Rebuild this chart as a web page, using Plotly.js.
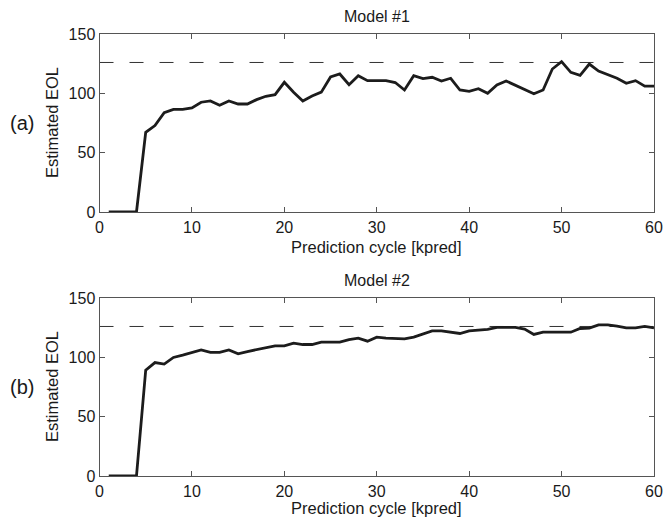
<!DOCTYPE html>
<html>
<head>
<meta charset="utf-8">
<script src="https://cdn.plot.ly/plotly-3.0.1.min.js"></script>
<style>html,body{margin:0;padding:0;background:#fff;}#chart{width:664px;height:520px;}</style>
</head>
<body>
<div id="chart"></div>
<script>
const cycles = [1,2,3,4,5,6,7,8,9,10,11,12,13,14,15,16,17,18,19,20,21,22,23,24,25,26,27,28,29,30,31,32,33,34,35,36,37,38,39,40,41,42,43,44,45,46,47,48,49,50,51,52,53,54,55,56,57,58,59,60];
const model1EOL = [0,0,0,0,67.2,72.8,83.7,86.5,86.5,87.7,92.5,93.6,89.9,93.6,91,91,94.7,97.5,98.9,109.3,100.9,93.6,97.8,101,113.8,116.3,107.3,114.9,110.7,110.7,110.7,109.1,102.8,114.9,112.4,113.5,110.4,112.7,102.8,101.7,103.9,100,107,110.4,106.8,103.7,99.7,102.8,120.5,126.7,117.7,115.2,124.7,118.8,115.7,112.7,108.5,110.7,106,106];
const model2EOL = [0,0,0,0,89.2,95.6,94.3,99.9,101.9,104.1,106.3,104.1,104.1,106.3,103,104.9,106.6,108.6,109.7,109.7,112,110.8,110.8,112.8,112.8,112.8,115,116.2,113.6,117,116.2,115.6,115.6,117,119.8,122.3,122.3,121.5,120.1,122.3,122.6,123.5,125.2,125.2,125.2,123.8,119.3,121.2,121.2,121.2,121.2,124.3,124.6,127.4,127.4,126.3,124.9,124.9,126,124.9];
const trueEOL = 126;
const panelTitles = ["Model #1","Model #2"];
const panelLabels = ["(a)","(b)"];
const xTitle = "Prediction cycle [kpred]";
const yTitle = "Estimated EOL";
const xTicks = [0,10,20,30,40,50,60];
const yTicks = [0,50,100,150];

const W = 664, H = 520;
const xL = 99.5, xR = 654;
const panels = [{top:34, bottom:212, xt:35}, {top:298, bottom:476, xt:32}];
const fx = p => p / W;
const fy = p => 1 - p / H;

const font = {family: 'Liberation Sans, Arial, sans-serif', color: '#1a1a1a'};
const lineCol = '#1c1c1c';

function axisX(anchor) {
  return {domain:[fx(xL), fx(xR)], range:[0,60], anchor:anchor, tickvals:xTicks, ticks:'inside', ticklen:5,
    tickcolor:'#555', linecolor:'#555', linewidth:1, mirror:'ticks', showgrid:false, zeroline:false,
    tickfont:Object.assign({size:16}, font), ticklabelstandoff:1, fixedrange:true};
}
function axisY(anchor, p) {
  return {domain:[fy(p.bottom), fy(p.top)], range:[0,150], anchor:anchor, tickvals:yTicks, ticks:'inside', ticklen:5,
    tickcolor:'#555', linecolor:'#555', linewidth:1, mirror:'ticks', showgrid:false, zeroline:false,
    tickfont:Object.assign({size:16}, font), ticklabelstandoff:0, fixedrange:true};
}

const data = [
  {x:[0,60], y:[trueEOL,trueEOL], xaxis:'x', yaxis:'y', mode:'lines', line:{color:'#333', width:1, dash:'14px,16px'}, hoverinfo:'skip'},
  {x:cycles, y:model1EOL, xaxis:'x', yaxis:'y', mode:'lines', line:{color:lineCol, width:2.8}},
  {x:[0,60], y:[trueEOL,trueEOL], xaxis:'x2', yaxis:'y2', mode:'lines', line:{color:'#333', width:1, dash:'14px,16px'}, hoverinfo:'skip'},
  {x:cycles, y:model2EOL, xaxis:'x2', yaxis:'y2', mode:'lines', line:{color:lineCol, width:2.8}}
];

const annotations = [];
panels.forEach((p, i) => {
  const mid = (p.top + p.bottom) / 2;
  annotations.push({text:panelTitles[i], xref:'paper', yref:'paper', x:fx((xL+xR)/2), y:fy(p.top - 18), xanchor:'center', yanchor:'middle', showarrow:false, font:Object.assign({size:16}, font)});
  annotations.push({text:xTitle, xref:'paper', yref:'paper', x:fx((xL+xR)/2), y:fy(p.bottom + p.xt), xanchor:'center', yanchor:'middle', showarrow:false, font:Object.assign({size:16.5}, font)});
  annotations.push({text:yTitle, xref:'paper', yref:'paper', x:fx(52), y:fy(mid), xanchor:'center', yanchor:'middle', textangle:-90, showarrow:false, font:Object.assign({size:16.5}, font)});
  annotations.push({text:panelLabels[i], xref:'paper', yref:'paper', x:fx(22), y:fy(mid), xanchor:'center', yanchor:'middle', showarrow:false, font:Object.assign({size:20}, font)});
});

const layout = {
  width:W, height:H, margin:{l:0, r:0, t:0, b:0}, showlegend:false,
  paper_bgcolor:'#fff', plot_bgcolor:'#fff',
  xaxis:axisX('y'), yaxis:axisY('x', panels[0]),
  xaxis2:axisX('y2'), yaxis2:axisY('x2', panels[1]),
  annotations:annotations
};

Plotly.newPlot('chart', data, layout, {displayModeBar:false, staticPlot:true});
</script>
</body>
</html>
